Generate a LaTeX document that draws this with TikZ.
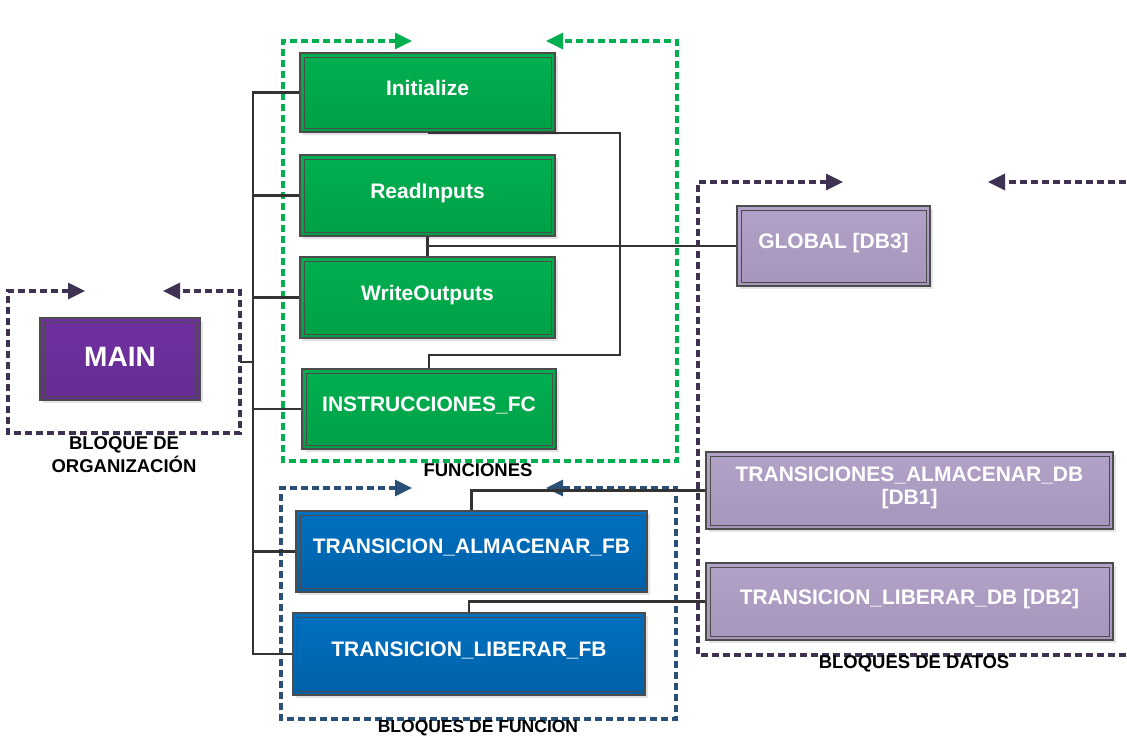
\documentclass[tikz,border=0pt]{standalone}
\usepackage{fontspec}
\setmainfont{Liberation Sans}
\usepackage{tikz}
\usetikzlibrary{arrows.meta,shadows}

\definecolor{verde}{HTML}{00B050}
\definecolor{verdeosc}{HTML}{00A046}
\definecolor{azul}{HTML}{0070C0}
\definecolor{azulosc}{HTML}{0061A8}
\definecolor{morado}{HTML}{7030A0}
\definecolor{moradoosc}{HTML}{662C93}
\definecolor{lila}{HTML}{B3A2C7}
\definecolor{lilaosc}{HTML}{A696BC}
\definecolor{grpmorado}{HTML}{3F3151}
\definecolor{grpazul}{HTML}{2A5078}
\definecolor{lineagris}{HTML}{333333}

\tikzset{
  bloque/.style={rectangle, draw=black!70, line width=1.4pt, text=white, align=center,
    font=\fontsize{21}{23}\selectfont\bfseries, inner sep=0pt, text depth=10pt,
    drop shadow={shadow xshift=3pt, shadow yshift=-3pt, opacity=0.22},
    path picture={\draw[black!70, line width=0.8pt]
      ([xshift=4pt,yshift=-4pt]path picture bounding box.north west) rectangle
      ([xshift=-4pt,yshift=4pt]path picture bounding box.south east);}},
  fcbox/.style={bloque, top color=verde, bottom color=verdeosc},
  fbbox/.style={bloque, top color=azul, bottom color=azulosc},
  obbox/.style={bloque, top color=morado, bottom color=moradoosc,
    font=\fontsize{28}{30}\selectfont\bfseries, text depth=4pt},
  dbbox/.style={bloque, top color=lila, bottom color=lilaosc},
  grupo/.style={dash pattern=on 7pt off 4pt, line width=3.2pt,
    {Triangle[length=17pt,width=16pt]}-{Triangle[length=17pt,width=16pt]}},
  enlace/.style={draw=lineagris, line width=2.2pt},
  etiqueta/.style={font=\fontsize{18.5}{23}\selectfont\bfseries, align=center}
}

\begin{document}
\begin{tikzpicture}[x=1pt, y=-1pt]
  \useasboundingbox (0,0) rectangle (1127,736);

  % grupos con flechas
  \draw[grupo, grpmorado] (85,291) -- (8,291) -- (8,433) -- (240,433) -- (240,291) -- (163,291);
  \draw[grupo, verde] (412,41) -- (283,41) -- (283,461) -- (677,461) -- (677,41) -- (546,41);
  \draw[grupo, grpazul] (412,488) -- (281,488) -- (281,719) -- (676,719) -- (676,488) -- (546,488);
  \draw[grupo, grpmorado] (843,182) -- (698,182) -- (698,655) -- (1150,655) -- (1150,182) -- (988,182);

  \node[etiqueta] (lorg) at (124,455) {BLOQUE DE\\ORGANIZACIÓN};
  \node[etiqueta] (lfc) at (478,470) {FUNCIONES};
  \node[etiqueta, font=\fontsize{17.5}{21}\selectfont\bfseries] (lfb) at (478,728.5) {BLOQUES DE FUNCION};
  \node[etiqueta] (ldb) at (914,664) {BLOQUES DE DATOS};

  % bloques
  \node[obbox, minimum width=160pt, minimum height=82pt] (main) at (120,359) {MAIN};

  \node[fcbox, minimum width=255pt, minimum height=79pt] (init) at (427.5,92.5) {Initialize};
  \node[fcbox, minimum width=255pt, minimum height=81pt] (read) at (427.5,195.5) {ReadInputs};
  \node[fcbox, minimum width=255pt, minimum height=81pt] (write) at (427.5,297.5) {WriteOutputs};
  \node[fcbox, minimum width=254pt, minimum height=80pt] (instr) at (429,409) {INSTRUCCIONES\_FC};

  \node[fbbox, minimum width=351pt, minimum height=81pt] (almfb) at (471.5,551.5) {TRANSICION\_ALMACENAR\_FB};
  \node[fbbox, minimum width=352pt, minimum height=82pt] (libfb) at (469,654) {TRANSICION\_LIBERAR\_FB};

  \node[dbbox, minimum width=193pt, minimum height=80pt] (global) at (833.5,246) {GLOBAL [DB3]};
  \node[dbbox, minimum width=407pt, minimum height=77pt] (db1) at (909.5,490.5) {TRANSICIONES\_ALMACENAR\_DB\\{}[DB1]};
  \node[dbbox, minimum width=407pt, minimum height=77pt] (db2) at (909.5,601.5) {TRANSICION\_LIBERAR\_DB [DB2]};

  % llamadas desde MAIN
  \coordinate (orge) at (240,362);
  \coordinate (bus) at (253,362);
  \draw[enlace] (orge) -- (bus);
  \foreach \b in {init,read,write,instr,almfb,libfb}
    \draw[enlace] (bus) |- (\b.west);

  % accesos a datos
  \coordinate (ret) at (620,355);
  \draw[enlace] (init.south) -| (ret) -| (instr.north);
  \draw[enlace] (read.south) |- (global.west);
  \draw[enlace] (write.north) |- (global.west);
  \draw[enlace] (almfb.north) |- (db1.west);
  \draw[enlace] (libfb.north) |- (db2.west);
\end{tikzpicture}
\end{document}
